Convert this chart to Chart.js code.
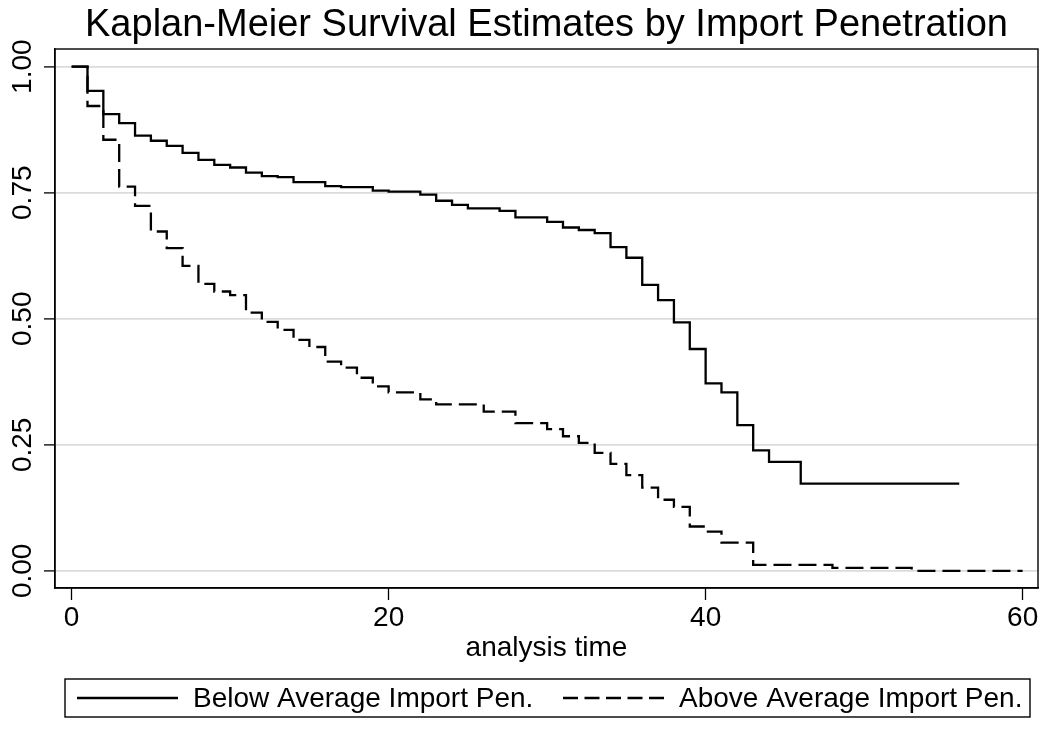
<!DOCTYPE html>
<html>
<head>
<meta charset="utf-8">
<script src="https://cdn.jsdelivr.net/npm/chart.js@4/dist/chart.umd.min.js"></script>
<style>
  html, body { margin: 0; padding: 0; background: #ffffff; }
  #wrap { width: 1043px; height: 731px; }
</style>
</head>
<body>
<div id="wrap"><canvas id="c" width="1043" height="731"></canvas></div>
<script>
// ---- chart text ----
const titleText = "Kaplan-Meier Survival Estimates by Import Penetration";
const xAxisTitle = "analysis time";
const seriesNames = ["Below Average Import Pen.", "Above Average Import Pen."];

// ---- tick labels ----
const xTicks = [0, 20, 40, 60];
const yTicks = [0, 0.25, 0.5, 0.75, 1];

// ---- series: Below Average Import Pen. (solid) ----
const belowTimes = [0, 1, 2, 3, 4, 5, 6, 7, 8, 9, 10, 11, 12, 13, 14, 16, 17, 19, 20, 22, 23, 24, 25, 27, 28, 30, 31, 32, 33, 34, 35, 36, 37, 38, 39, 40, 41, 42, 43, 44, 46, 56];
const belowSurv  = [1.000, 0.952, 0.906, 0.888, 0.863, 0.853, 0.843, 0.829, 0.815, 0.805, 0.800, 0.790, 0.783, 0.781, 0.771, 0.763, 0.761, 0.754, 0.752, 0.746, 0.734, 0.726, 0.719, 0.714, 0.701, 0.692, 0.681, 0.676, 0.670, 0.642, 0.621, 0.567, 0.537, 0.493, 0.440, 0.372, 0.354, 0.289, 0.239, 0.216, 0.173, 0.173];

// ---- series: Above Average Import Pen. (dashed) ----
const aboveTimes = [0, 1, 2, 3, 4, 5, 6, 7, 8, 9, 10, 11, 12, 13, 14, 15, 16, 17, 18, 19, 20, 22, 23, 26, 28, 30, 31, 32, 33, 34, 35, 36, 37, 38, 39, 40, 41, 43, 48, 53, 60];
const aboveSurv  = [1.000, 0.922, 0.855, 0.762, 0.724, 0.673, 0.640, 0.605, 0.569, 0.554, 0.547, 0.512, 0.494, 0.478, 0.458, 0.444, 0.415, 0.403, 0.383, 0.366, 0.354, 0.340, 0.330, 0.316, 0.293, 0.281, 0.267, 0.254, 0.234, 0.212, 0.190, 0.165, 0.141, 0.127, 0.088, 0.078, 0.056, 0.012, 0.006, 0.000, 0.000];

const FONT = "'Liberation Sans', Arial, Helvetica, sans-serif";

function toPoints(ts, vs) { return ts.map((t, i) => ({ x: t, y: vs[i] })); }

// Frame around the plot region
const framePlugin = {
  id: 'frame',
  afterDatasetsDraw(chart) {
    const a = chart.chartArea, ctx = chart.ctx;
    ctx.save();
    ctx.strokeStyle = '#000';
    ctx.lineWidth = 1.4;
    ctx.strokeRect(a.left, a.top, a.right - a.left, a.bottom - a.top);
    ctx.restore();
  }
};

// Center title over the plot region
const titleCenterPlugin = {
  id: 'titleCenter',
  afterLayout(chart) {
    const t = chart.titleBlock;
    if (t) { t.left = chart.chartArea.left; t.right = chart.chartArea.right; }
  }
};

// Boxed legend below the axis title
const boxLegendPlugin = {
  id: 'boxLegend',
  afterDraw(chart) {
    const ctx = chart.ctx, a = chart.chartArea;
    const boxL = a.left + 10, boxR = a.right - 8;
    const boxT = chart.height - 52, boxB = chart.height - 14;
    const cy = (boxT + boxB) / 2;
    ctx.save();
    ctx.strokeStyle = '#000';
    ctx.lineWidth = 1.4;
    ctx.strokeRect(boxL, boxT, boxR - boxL, boxB - boxT);
    ctx.font = "28px " + FONT;
    ctx.fillStyle = '#000';
    ctx.textBaseline = 'middle';
    const sample = 101, gap = 15;
    const starts = [boxL + 12, boxL + 498];
    chart.data.datasets.forEach((d, i) => {
      const x = starts[i];
      ctx.beginPath();
      ctx.setLineDash(d.borderDash && d.borderDash.length ? [15, 6.5] : []);
      ctx.lineWidth = d.borderWidth;
      ctx.strokeStyle = d.borderColor;
      ctx.moveTo(x, cy);
      ctx.lineTo(x + sample, cy);
      ctx.stroke();
      ctx.setLineDash([]);
      ctx.fillText(d.label, x + sample + gap, cy + 1);
    });
    ctx.restore();
  }
};

new Chart(document.getElementById('c'), {
  type: 'line',
  data: {
    datasets: [
      {
        label: seriesNames[0],
        data: toPoints(belowTimes, belowSurv),
        stepped: 'before',
        borderColor: '#000',
        backgroundColor: 'rgba(0,0,0,0)',
        borderWidth: 2.3,
        pointRadius: 0,
        fill: false
      },
      {
        label: seriesNames[1],
        data: toPoints(aboveTimes, aboveSurv),
        stepped: 'before',
        borderColor: '#000',
        backgroundColor: 'rgba(0,0,0,0)',
        borderWidth: 2.3,
        borderDash: [18, 7],
        pointRadius: 0,
        fill: false
      }
    ]
  },
  options: {
    responsive: false,
    animation: false,
    devicePixelRatio: 1,
    layout: { padding: { top: 0, left: 0, right: 5, bottom: 63 } },
    plugins: {
      legend: { display: false },
      tooltip: { enabled: false },
      title: {
        display: true,
        text: titleText,
        color: '#000',
        font: { family: FONT, size: 38, weight: 'normal' },
        padding: { top: 3, bottom: 0.4 }
      }
    },
    scales: {
      x: {
        type: 'linear',
        min: -1.05,
        max: 60.97,
        afterBuildTicks(s) { s.ticks = xTicks.map(v => ({ value: v })); },
        afterFit(s) { s.height = 80; },
        grid: { drawOnChartArea: false, drawTicks: true, tickLength: 12, tickColor: '#000', tickWidth: 1.3 },
        border: { display: true, color: '#000', width: 1.4 },
        ticks: {
          color: '#000',
          font: { family: FONT, size: 28 },
          padding: 1,
          maxRotation: 0,
          autoSkip: false,
          callback: v => String(v)
        },
        title: {
          display: true,
          text: xAxisTitle,
          color: '#000',
          font: { family: FONT, size: 28 },
          padding: { top: 0, bottom: 3 }
        }
      },
      y: {
        type: 'linear',
        min: -0.034,
        max: 1.035,
        afterBuildTicks(s) { s.ticks = yTicks.map(v => ({ value: v })); },
        afterFit(s) { s.width = 55; },
        grid: { color: '#dcdcdc', lineWidth: 1.8, drawTicks: true, tickLength: 11, tickColor: '#000', tickWidth: 1.3 },
        border: { display: true, color: '#000', width: 1.4 },
        ticks: {
          color: '#000',
          font: { family: FONT, size: 28 },
          minRotation: 90,
          maxRotation: 90,
          crossAlign: 'center',
          padding: -7,
          autoSkip: false,
          callback: v => Number(v).toFixed(2)
        }
      }
    }
  },
  plugins: [framePlugin, titleCenterPlugin, boxLegendPlugin]
});
</script>
</body>
</html>
